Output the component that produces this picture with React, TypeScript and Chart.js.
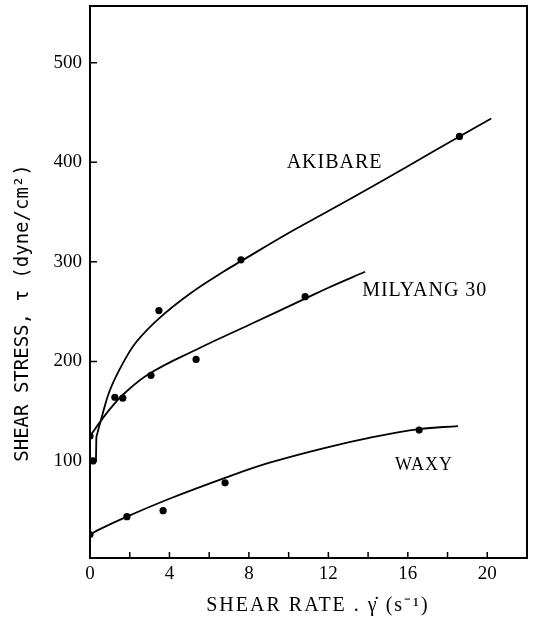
import React, { useEffect, useRef } from "react";
import { Chart, registerables } from "chart.js";

Chart.register(...registerables);

// Tick values
const xTickLabels = [0, 4, 8, 12, 16, 20];
const xMinorTicks = [2, 6, 10, 14, 18];
const yTickLabels = [100, 200, 300, 400, 500];

// Measured points
const akibareX = [0.15, 3.47, 7.6, 18.6];
const akibareY = [100, 251, 302, 426];
const milyangX = [0, 1.25, 1.65, 3.07, 5.34, 10.83];
const milyangY = [125, 164, 163, 186, 202, 265];
const waxyX = [0, 1.86, 3.68, 6.8, 16.57];
const waxyY = [26, 44, 50, 78, 131];

// Fitted curves
const akibareStartX = [0.15, 0.3, 0.32];
const akibareStartY = [100, 100, 124];
const akibareCurveX = [0.32, 0.59, 1.0, 1.68, 2.35, 3.52, 5.03, 6.71, 7.63, 10, 12, 14.5, 16, 18.6, 20.2];
const akibareCurveY = [124, 144, 171, 199, 220, 244, 268, 290, 301, 329, 351, 379, 396, 426, 444];
const milyangCurveX = [0, 0.5, 1.0, 1.68, 3.02, 5.37, 8.05, 10.83, 12, 13.85];
const milyangCurveY = [125, 139, 152, 167, 188, 212, 237, 263, 274, 290];
const waxyCurveX = [0, 0.45, 1.86, 4, 6.8, 9, 12, 14, 16.57, 18.53];
const waxyCurveY = [26, 31, 44, 62, 83, 98, 114, 123, 132, 135];

// Series labels
const seriesNames = ["AKIBARE", "MILYANG 30", "WAXY"];
const seriesLabelX = [9.9, 13.7, 15.36];
const seriesLabelY = [400, 271, 96];

const xTitle = "SHEAR RATE . \u03B3\u0307 (s\u207B\u00B9)";
const yTitle = "SHEAR STRESS, \u03C4 (dyne/cm\u00B2)";

const zip = (xs: number[], ys: number[]) => xs.map((v, i) => ({ x: v, y: ys[i] }));

const decor = {
  id: "decor",
  afterDraw(chart: any) {
    const { ctx, chartArea, scales } = chart;
    const { left, right, top, bottom } = chartArea;
    const x = scales.x;
    const y = scales.y;
    ctx.save();
    ctx.strokeStyle = "#000";
    ctx.lineWidth = 2;
    ctx.strokeRect(left, top, right - left, bottom - top);
    ctx.lineWidth = 1.5;
    ctx.beginPath();
    [...xTickLabels, ...xMinorTicks].forEach((v) => {
      const px = x.getPixelForValue(v);
      ctx.moveTo(px, bottom);
      ctx.lineTo(px, bottom - 6);
    });
    yTickLabels.forEach((v) => {
      const py = y.getPixelForValue(v);
      ctx.moveTo(left, py);
      ctx.lineTo(left + 7, py);
    });
    ctx.stroke();

    ctx.fillStyle = "#000";
    ctx.textBaseline = "middle";
    ctx.textAlign = "left";
    seriesNames.forEach((name, i) => {
      ctx.font = i === 2 ? "18px 'Liberation Serif'" : "20px 'Liberation Serif'";
      (ctx as any).letterSpacing = "1px";
      ctx.fillText(name, x.getPixelForValue(seriesLabelX[i]), y.getPixelForValue(seriesLabelY[i]));
    });

    // axis titles
    ctx.font = "20px 'Liberation Serif'";
    (ctx as any).letterSpacing = "2px";
    ctx.textAlign = "center";
    ctx.fillText(xTitle, 318, 606);

    ctx.font = "19px 'DejaVu Sans Mono'";
    (ctx as any).letterSpacing = "0px";
    ctx.translate(23, 313);
    ctx.rotate(-Math.PI / 2);
    ctx.fillText(yTitle, 0, 0);
    ctx.restore();
  },
};

export default function App() {
  const ref = useRef<HTMLCanvasElement | null>(null);
  useEffect(() => {
    if (!ref.current) return;
    const tickFont = { family: "'Liberation Serif'", size: 19 };
    const pointDs = (xs: number[], ys: number[]) => ({
      data: zip(xs, ys),
      showLine: false,
      pointRadius: 3.6,
      pointBackgroundColor: "#000",
      pointBorderColor: "#000",
      borderWidth: 0,
    });
    const lineDs = (xs: number[], ys: number[], tension = 0.4) => ({
      data: zip(xs, ys),
      showLine: true,
      pointRadius: 0,
      borderColor: "#000",
      borderWidth: 1.8,
      tension,
    });
    const zeroPad = (s: any) => {
      s.paddingTop = 0;
      s.paddingBottom = 0;
      s.paddingLeft = 0;
      s.paddingRight = 0;
    };
    const chart = new Chart(ref.current, {
      type: "scatter",
      data: {
        datasets: [
          lineDs(akibareStartX, akibareStartY, 0),
          lineDs(akibareCurveX, akibareCurveY),
          lineDs(milyangCurveX, milyangCurveY),
          lineDs(waxyCurveX, waxyCurveY),
          pointDs(akibareX, akibareY),
          pointDs(milyangX, milyangY),
          pointDs(waxyX, waxyY),
        ] as any,
      },
      options: {
        animation: false,
        responsive: true,
        maintainAspectRatio: false,
        layout: { padding: { left: 0, right: 7, top: 6, bottom: 0 } },
        plugins: { legend: { display: false }, tooltip: { enabled: false } },
        scales: {
          x: {
            type: "linear",
            min: 0,
            max: 22,
            afterBuildTicks: (s: any) => {
              s.ticks = xTickLabels.map((v) => ({ value: v }));
            },
            afterFit: (s: any) => {
              s.height = 61;
              zeroPad(s);
            },
            ticks: { font: tickFont, color: "#000", padding: 5, maxRotation: 0, autoSkip: false },
            grid: { display: false, drawTicks: false },
            border: { display: false },
          },
          y: {
            type: "linear",
            min: 2.5,
            max: 557,
            afterBuildTicks: (s: any) => {
              s.ticks = yTickLabels.map((v) => ({ value: v }));
            },
            afterFit: (s: any) => {
              s.width = 90;
              zeroPad(s);
            },
            ticks: { font: tickFont, color: "#000", padding: 8, autoSkip: false },
            grid: { display: false, drawTicks: false },
            border: { display: false },
          },
        },
      },
      plugins: [decor],
    });
    return () => chart.destroy();
  }, []);
  return (
    <div style={{ position: "fixed", left: 0, top: 0, width: 534, height: 619, background: "#fff" }}>
      <canvas ref={ref} />
    </div>
  );
}
